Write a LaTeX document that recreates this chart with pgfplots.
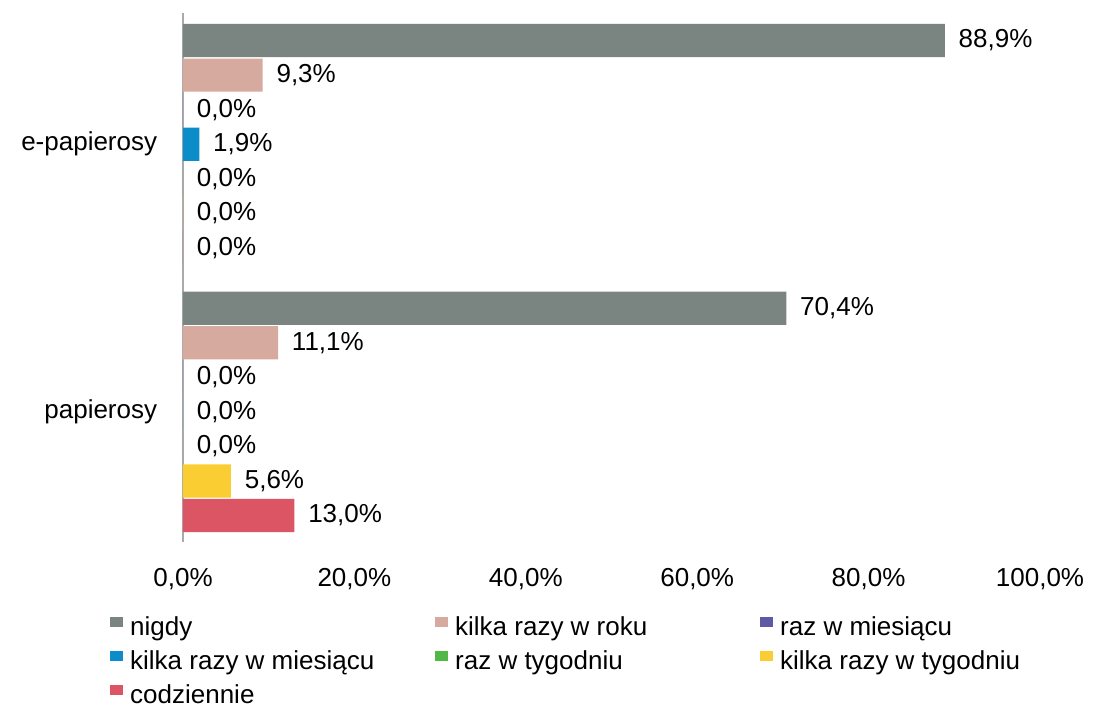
\documentclass[border=0pt]{standalone}
\usepackage{pgfplots}
\pgfplotsset{compat=1.18}
\usepackage{fontspec}
\setmainfont{Liberation Sans}
\definecolor{cNig}{RGB}{122,132,128}
\definecolor{cRok}{RGB}{214,170,158}
\definecolor{cRMi}{RGB}{95,88,165}
\definecolor{cKMi}{RGB}{12,140,200}
\definecolor{cRTy}{RGB}{80,185,70}
\definecolor{cKTy}{RGB}{250,205,50}
\definecolor{cCod}{RGB}{220,85,100}
\definecolor{axgray}{RGB}{170,170,170}
\begin{document}
\fontsize{26}{31}\selectfont
\begin{tikzpicture}
\useasboundingbox (-183pt,-166pt) rectangle (910pt,542pt);
\begin{axis}[
  scale only axis,
  width=857pt, height=529pt,
  xbar=0pt,
  bar width=0.124,
  y dir=reverse,
  xmin=0, xmax=100,
  ymin=-0.49, ymax=1.486,
  xtick={0,20,40,60,80,100},
  ytick={0,1},
  yticklabels={e-papierosy,papierosy},
  /pgf/number format/assume math mode=true,
  xticklabel={\pgfmathprintnumber[fixed,fixed zerofill,precision=1,use comma]{\tick}\%},
  xticklabel style={yshift=-17pt},
  yticklabel style={xshift=-17pt},
  major tick length=0pt,
  axis lines*=left,
  x axis line style={draw=none},
  y axis line style={draw=axgray, line width=1.5pt},
  point meta=x,
  nodes near coords={\pgfmathprintnumber[fixed,fixed zerofill,precision=1,use comma]{\pgfplotspointmeta}\%},
  every node near coord/.append style={xshift=5pt, text=black},
  legend columns=3,
  legend style={at={(axis description cs:0,0)}, anchor=north west,
    xshift=-73pt, yshift=-73pt, draw=none, fill=none, inner sep=0pt,
    row sep=7pt, column sep=0pt,
    nodes={inner sep=0pt, text height=20pt, text depth=7pt}},
  legend image code/.code={\fill[#1,draw=none] (0pt,1.5pt) rectangle (13pt,12pt); \path (0pt,0pt) (20pt,0pt);},
]
\addplot[fill=cNig, draw=none, bar shift=-0.387] coordinates {(88.9,0) (70.4,1)};
\addlegendentry{\makebox[305pt][l]{nigdy}}
\addplot[fill=cRok, draw=none, bar shift=-0.258] coordinates {(9.3,0) (11.1,1)};
\addlegendentry{\makebox[305pt][l]{kilka razy w roku}}
\addplot[fill=cRMi, draw=none, bar shift=-0.129] coordinates {(0,0) (0,1)};
\addlegendentry{\makebox[305pt][l]{raz w miesiącu}}
\addplot[fill=cKMi, draw=none, bar shift=0] coordinates {(1.9,0) (0,1)};
\addlegendentry{\makebox[305pt][l]{kilka razy w miesiącu}}
\addplot[fill=cRTy, draw=none, bar shift=0.129] coordinates {(0,0) (0,1)};
\addlegendentry{\makebox[305pt][l]{raz w tygodniu}}
\addplot[fill=cKTy, draw=none, bar shift=0.258] coordinates {(0,0) (5.6,1)};
\addlegendentry{\makebox[305pt][l]{kilka razy w tygodniu}}
\addplot[fill=cCod, draw=none, bar shift=0.387] coordinates {(0,0) (13.0,1)};
\addlegendentry{\makebox[305pt][l]{codziennie}}
\end{axis}
\end{tikzpicture}
\end{document}
